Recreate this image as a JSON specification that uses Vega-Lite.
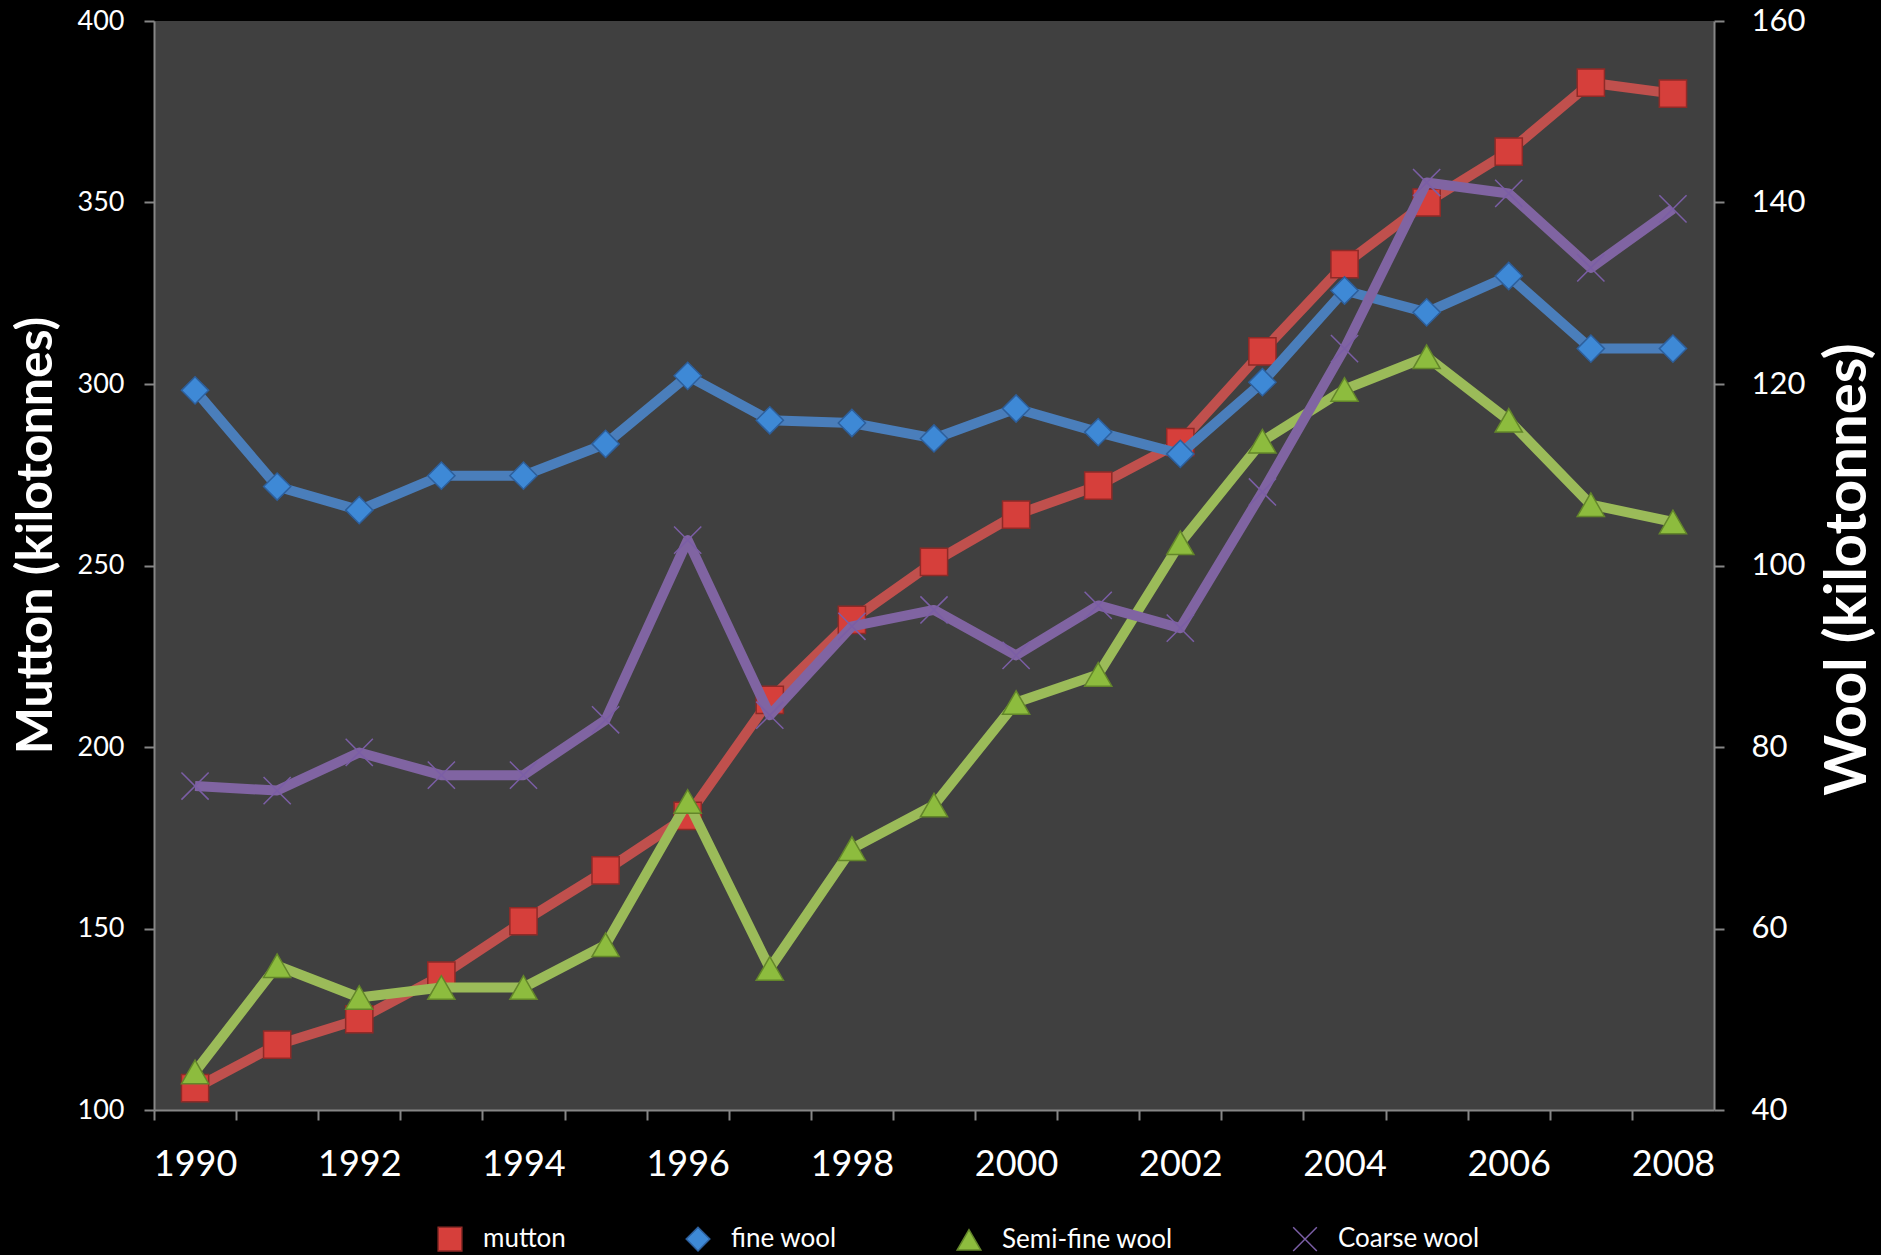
{
  "$schema": "https://vega.github.io/schema/vega-lite/v6.json",
  "width": 1560,
  "height": 1089,
  "autosize": {"type": "none"},
  "padding": {"left": 154, "top": 21, "right": 167, "bottom": 145},
  "background": "#000000",
  "view": {"fill": "#404040", "stroke": null},
  "config": {
    "font": "Lato",
    "axis": {
      "domainColor": "#868686", "domainWidth": 2,
      "tickColor": "#868686", "tickWidth": 2, "tickSize": 10,
      "labelColor": "#ffffff", "titleColor": "#ffffff",
      "grid": false, "labelFont": "Lato", "titleFont": "Lato", "titleFontWeight": "bold"
    },
    "legend": {
      "orient": "none", "legendX": 283, "legendY": 1205, "direction": "horizontal", "title": null,
      "labelColor": "#ffffff", "labelFont": "Lato", "labelFontSize": 26, "labelLimit": 400,
      "symbolSize": 560, "columnPadding": 117, "labelOffset": 20, "padding": 0
    }
  },
  "datasets": {
    "d": [
      {"year": 1990, "series": "mutton", "value": 106},
      {"year": 1991, "series": "mutton", "value": 118},
      {"year": 1992, "series": "mutton", "value": 125},
      {"year": 1993, "series": "mutton", "value": 137},
      {"year": 1994, "series": "mutton", "value": 152},
      {"year": 1995, "series": "mutton", "value": 166},
      {"year": 1996, "series": "mutton", "value": 181},
      {"year": 1997, "series": "mutton", "value": 213},
      {"year": 1998, "series": "mutton", "value": 235},
      {"year": 1999, "series": "mutton", "value": 251},
      {"year": 2000, "series": "mutton", "value": 264},
      {"year": 2001, "series": "mutton", "value": 272},
      {"year": 2002, "series": "mutton", "value": 284},
      {"year": 2003, "series": "mutton", "value": 309},
      {"year": 2004, "series": "mutton", "value": 333},
      {"year": 2005, "series": "mutton", "value": 350},
      {"year": 2006, "series": "mutton", "value": 364},
      {"year": 2007, "series": "mutton", "value": 383},
      {"year": 2008, "series": "mutton", "value": 380},
      {"year": 1990, "series": "fine wool", "value": 119.3},
      {"year": 1991, "series": "fine wool", "value": 108.7},
      {"year": 1992, "series": "fine wool", "value": 106.1},
      {"year": 1993, "series": "fine wool", "value": 109.9},
      {"year": 1994, "series": "fine wool", "value": 109.9},
      {"year": 1995, "series": "fine wool", "value": 113.4},
      {"year": 1996, "series": "fine wool", "value": 120.9},
      {"year": 1997, "series": "fine wool", "value": 116},
      {"year": 1998, "series": "fine wool", "value": 115.7},
      {"year": 1999, "series": "fine wool", "value": 114},
      {"year": 2000, "series": "fine wool", "value": 117.3},
      {"year": 2001, "series": "fine wool", "value": 114.7},
      {"year": 2002, "series": "fine wool", "value": 112.3},
      {"year": 2003, "series": "fine wool", "value": 120.2},
      {"year": 2004, "series": "fine wool", "value": 130.3},
      {"year": 2005, "series": "fine wool", "value": 127.9},
      {"year": 2006, "series": "fine wool", "value": 131.9},
      {"year": 2007, "series": "fine wool", "value": 123.9},
      {"year": 2008, "series": "fine wool", "value": 123.9},
      {"year": 1990, "series": "Semi-fine wool", "value": 44.2},
      {"year": 1991, "series": "Semi-fine wool", "value": 55.9},
      {"year": 1992, "series": "Semi-fine wool", "value": 52.4},
      {"year": 1993, "series": "Semi-fine wool", "value": 53.5},
      {"year": 1994, "series": "Semi-fine wool", "value": 53.5},
      {"year": 1995, "series": "Semi-fine wool", "value": 58.2},
      {"year": 1996, "series": "Semi-fine wool", "value": 74},
      {"year": 1997, "series": "Semi-fine wool", "value": 55.6},
      {"year": 1998, "series": "Semi-fine wool", "value": 68.8},
      {"year": 1999, "series": "Semi-fine wool", "value": 73.6},
      {"year": 2000, "series": "Semi-fine wool", "value": 84.9},
      {"year": 2001, "series": "Semi-fine wool", "value": 88},
      {"year": 2002, "series": "Semi-fine wool", "value": 102.5},
      {"year": 2003, "series": "Semi-fine wool", "value": 113.7},
      {"year": 2004, "series": "Semi-fine wool", "value": 119.4},
      {"year": 2005, "series": "Semi-fine wool", "value": 123},
      {"year": 2006, "series": "Semi-fine wool", "value": 116},
      {"year": 2007, "series": "Semi-fine wool", "value": 106.7},
      {"year": 2008, "series": "Semi-fine wool", "value": 104.8},
      {"year": 1990, "series": "Coarse wool", "value": 75.7},
      {"year": 1991, "series": "Coarse wool", "value": 75.2},
      {"year": 1992, "series": "Coarse wool", "value": 79.4},
      {"year": 1993, "series": "Coarse wool", "value": 76.9},
      {"year": 1994, "series": "Coarse wool", "value": 76.9},
      {"year": 1995, "series": "Coarse wool", "value": 83},
      {"year": 1996, "series": "Coarse wool", "value": 102.8},
      {"year": 1997, "series": "Coarse wool", "value": 83.5},
      {"year": 1998, "series": "Coarse wool", "value": 93.3},
      {"year": 1999, "series": "Coarse wool", "value": 95.1},
      {"year": 2000, "series": "Coarse wool", "value": 90.1},
      {"year": 2001, "series": "Coarse wool", "value": 95.6},
      {"year": 2002, "series": "Coarse wool", "value": 93.1},
      {"year": 2003, "series": "Coarse wool", "value": 108.1},
      {"year": 2004, "series": "Coarse wool", "value": 123.9},
      {"year": 2005, "series": "Coarse wool", "value": 142.2},
      {"year": 2006, "series": "Coarse wool", "value": 141},
      {"year": 2007, "series": "Coarse wool", "value": 132.8},
      {"year": 2008, "series": "Coarse wool", "value": 139.3}
    ]
  },
  "data": {"name": "d"},
  "encoding": {
    "x": {
      "field": "year", "type": "ordinal",
      "scale": {"type": "point", "padding": 0.5},
      "axis": {
        "title": null, "labelAngle": 0, "labelFontSize": 36, "labelPadding": 27,
        "tickOffset": -41.05, "labelOffset": 41.05,
        "labelExpr": "datum.value % 2 == 0 ? datum.label : ''"
      }
    }
  },
  "layer": [
    {
      "transform": [{"filter": "datum.series == 'mutton'"}],
      "encoding": {
        "y": {
          "field": "value", "type": "quantitative",
          "scale": {"domain": [100, 400], "nice": false, "zero": false},
          "axis": {
            "orient": "left", "values": [100, 150, 200, 250, 300, 350, 400],
            "title": "Mutton (kilotonnes)", "labelFontSize": 27, "labelPadding": 20,
            "titleFontSize": 50, "titleX": -118, "titleY": 514, "titleAngle": 270,
            "titleAlign": "center", "titleBaseline": "middle"
          }
        }
      },
      "layer": [
        {
          "mark": {"type": "line", "strokeWidth": 10, "strokeJoin": "round", "color": "#C0504D"}
        },
        {
          "mark": {"type": "point", "filled": true, "size": 740, "strokeWidth": 1.5, "opacity": 1},
          "encoding": {
            "fill": {"field": "series", "type": "nominal",
              "scale": {"domain": ["mutton", "fine wool", "Semi-fine wool", "Coarse wool"], "range": ["#D63F3B", "#3E89D6", "#8DBC3E", "#8064A2"]},
              "legend": {
                "encode": {"symbols": {
                  "shape": {"value": {"expr": "datum.value == 'mutton' ? 'M-2.5,-0.42H2.5V0.42H-2.5Z M-1.05,-1.05H1.05V1.05H-1.05Z' : datum.value == 'fine wool' ? 'M-2.5,-0.42H2.5V0.42H-2.5Z M0,-1.2L1.2,0L0,1.2L-1.2,0Z' : datum.value == 'Semi-fine wool' ? 'M-2.5,-0.42H2.5V0.42H-2.5Z M0,-1.2L1.1,1L-1.1,1Z' : 'M-2.5,-0.42H2.5V0.42H-2.5Z M-1,-1L1,1M-1,1L1,-1'"}},
                  "strokeWidth": {"value": {"expr": "datum.value == 'Coarse wool' ? 2 : 0"}}
                }}
              }},
            "stroke": {"field": "series", "type": "nominal",
              "scale": {"domain": ["mutton", "fine wool", "Semi-fine wool", "Coarse wool"], "range": ["#8F2A27", "#2D5F9C", "#63862A", "#7B5EA6"]},
              "legend": {
                "encode": {"symbols": {
                  "shape": {"value": {"expr": "datum.value == 'mutton' ? 'M-2.5,-0.42H2.5V0.42H-2.5Z M-1.05,-1.05H1.05V1.05H-1.05Z' : datum.value == 'fine wool' ? 'M-2.5,-0.42H2.5V0.42H-2.5Z M0,-1.2L1.2,0L0,1.2L-1.2,0Z' : datum.value == 'Semi-fine wool' ? 'M-2.5,-0.42H2.5V0.42H-2.5Z M0,-1.2L1.1,1L-1.1,1Z' : 'M-2.5,-0.42H2.5V0.42H-2.5Z M-1,-1L1,1M-1,1L1,-1'"}},
                  "strokeWidth": {"value": {"expr": "datum.value == 'Coarse wool' ? 2 : 0"}}
                }}
              }},
            "shape": {"field": "series", "type": "nominal",
              "scale": {"domain": ["mutton", "fine wool", "Semi-fine wool", "Coarse wool"], "range": ["square", "diamond", "triangle-up", "M-1,-1L1,1M-1,1L1,-1"]},
              "legend": {
                "encode": {"symbols": {
                  "shape": {"value": {"expr": "datum.value == 'mutton' ? 'M-2.5,-0.42H2.5V0.42H-2.5Z M-1.05,-1.05H1.05V1.05H-1.05Z' : datum.value == 'fine wool' ? 'M-2.5,-0.42H2.5V0.42H-2.5Z M0,-1.2L1.2,0L0,1.2L-1.2,0Z' : datum.value == 'Semi-fine wool' ? 'M-2.5,-0.42H2.5V0.42H-2.5Z M0,-1.2L1.1,1L-1.1,1Z' : 'M-2.5,-0.42H2.5V0.42H-2.5Z M-1,-1L1,1M-1,1L1,-1'"}},
                  "strokeWidth": {"value": {"expr": "datum.value == 'Coarse wool' ? 2 : 0"}}
                }}
              }}
          }
        }
      ]
    },
    {
      "transform": [{"filter": "datum.series != 'mutton'"}],
      "encoding": {
        "y": {
          "field": "value", "type": "quantitative",
          "scale": {"domain": [40, 160], "nice": false, "zero": false},
          "axis": {
            "orient": "right", "values": [40, 60, 80, 100, 120, 140, 160],
            "title": "Wool (kilotonnes)", "labelFontSize": 31, "labelPadding": 27,
            "titleFontSize": 58, "titleX": 134, "titleY": 548, "titleAngle": 270,
            "titleAlign": "center", "titleBaseline": "middle"
          }
        }
      },
      "layer": [
        {
          "transform": [{"filter": "datum.series == 'fine wool'"}],
          "mark": {"type": "line", "strokeWidth": 10, "strokeJoin": "round", "color": "#4A7EBB"}
        },
        {
          "transform": [{"filter": "datum.series == 'Semi-fine wool'"}],
          "mark": {"type": "line", "strokeWidth": 10, "strokeJoin": "round", "color": "#9BBB59"}
        },
        {
          "transform": [{"filter": "datum.series == 'Coarse wool'"}],
          "mark": {"type": "line", "strokeWidth": 10, "strokeJoin": "round", "color": "#8064A2"}
        },
        {
          "mark": {"type": "point", "filled": true, "size": 740, "strokeWidth": 1.5, "opacity": 1},
          "encoding": {
            "fill": {"field": "series", "type": "nominal"},
            "stroke": {"field": "series", "type": "nominal"},
            "shape": {"field": "series", "type": "nominal"}
          }
        }
      ]
    }
  ],
  "resolve": {"scale": {"y": "independent"}}
}
